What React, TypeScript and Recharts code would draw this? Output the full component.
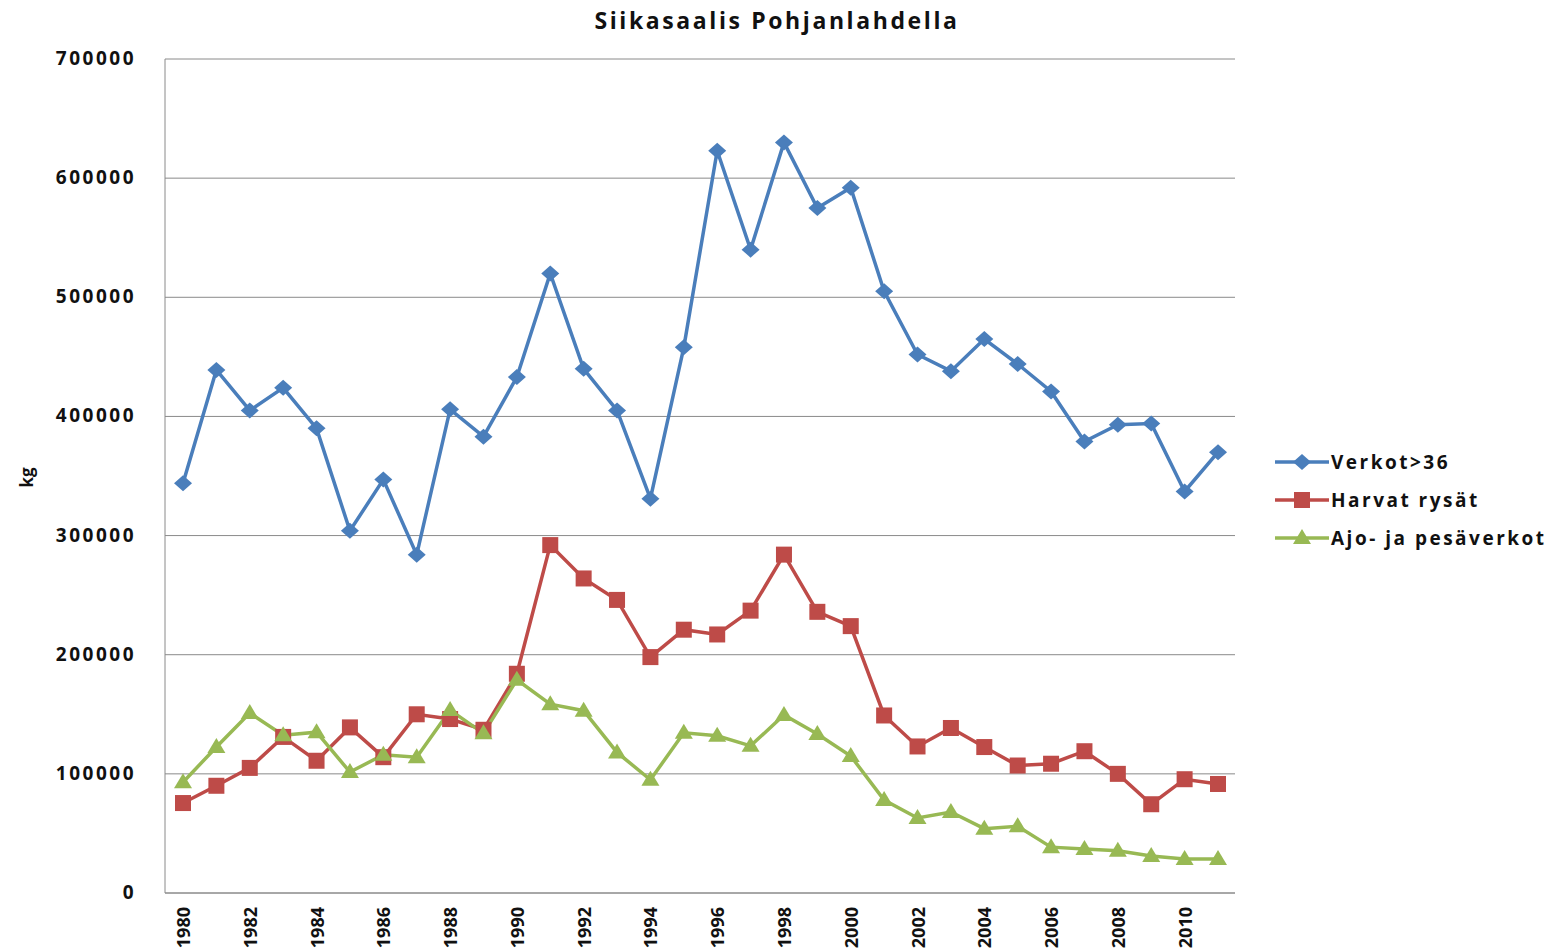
import React from "react";
import { LineChart, Line, XAxis, YAxis, CartesianGrid } from "recharts";

const years = [
    1980, 1981, 1982, 1983, 1984, 1985, 1986, 1987, 1988, 1989, 1990, 1991, 1992, 1993, 1994, 1995,
    1996, 1997, 1998, 1999, 2000, 2001, 2002, 2003, 2004, 2005, 2006, 2007, 2008, 2009, 2010, 2011,
];

const verkot = [
    344000, 439000, 405000, 424000, 390000, 304000, 347000, 284000, 406000, 383000, 433000, 520000,
    440000, 405000, 331000, 458000, 623000, 540000, 630000, 575000, 592000, 505000, 452000, 438000,
    465000, 444000, 421000, 379000, 393000, 394000, 337000, 370000,
];

const harvat = [
    75500, 90000, 105000, 131000, 111000, 139000, 114000, 150000, 146000, 137000, 184000, 292000,
    264000, 246000, 198000, 221000, 217000, 237000, 284000, 236000, 224000, 149000, 123000, 138500,
    122500, 107000, 108500, 119000, 100000, 74500, 95500, 91500,
];

const ajo = [
    93000, 122500, 151000, 132500, 135000, 101500, 116000, 114000, 153500, 134000, 179000, 158500,
    153000, 118000, 95000, 134500, 132000, 123500, 149500, 133500, 115000, 78000, 63000, 68000,
    54000, 56000, 38500, 37000, 35500, 31000, 28500, 28500,
];

const yTicks = [0, 100000, 200000, 300000, 400000, 500000, 600000, 700000];

const seriesNames = ["Verkot>36", "Harvat rysät", "Ajo- ja pesäverkot"];

const BLUE = "#4A7EBB";
const RED = "#BE4B48";
const GREEN = "#98B954";
const FONT = "'Open Sans', sans-serif";

const data = years.map((y, i) => ({
    year: String(y),
    verkot: verkot[i],
    harvat: harvat[i],
    ajo: ajo[i],
}));

function Marker({ kind, cx, cy, color }: { kind: string; cx: number; cy: number; color: string }) {
    if (kind === "diamond") {
        return <path d={`M${cx},${cy - 8} L${cx + 9},${cy} L${cx},${cy + 8} L${cx - 9},${cy} Z`} fill={color} />;
    }
    if (kind === "square") {
        return <rect x={cx - 8} y={cy - 8} width={16} height={16} fill={color} />;
    }
    return <path d={`M${cx},${cy - 9} L${cx + 9},${cy + 6} L${cx - 9},${cy + 6} Z`} fill={color} />;
}

function makeDot(kind: string, color: string) {
    return (props: any) => {
        const { cx, cy, index } = props;
        if (cx == null || cy == null) return <g key={`e-${index}`} />;
        return <Marker key={`${kind}-${index}`} kind={kind} cx={cx} cy={cy} color={color} />;
    };
}

function YTick(props: any) {
    const { y, payload } = props;
    return (
        <text x={136} y={y + 6} textAnchor="end" fontFamily={FONT} fontWeight={700} fontSize={19} letterSpacing={2.5} fill="#111">
            {payload.value}
        </text>
    );
}

// rotated year labels hang down from just under the axis
function XTick(props: any) {
    const { x, payload } = props;
    const ty = 907;
    return (
        <text
            x={x + 7}
            y={ty}
            transform={`rotate(-90, ${x + 7}, ${ty})`}
            textAnchor="end"
            fontFamily={FONT}
            fontWeight={700}
            fontSize={18}
            fill="#111"
        >
            {payload.value}
        </text>
    );
}

const legendItems = [
    { name: seriesNames[0], color: BLUE, kind: "diamond" },
    { name: seriesNames[1], color: RED, kind: "square" },
    { name: seriesNames[2], color: GREEN, kind: "triangle" },
];

export default function App() {
    return (
        <div style={{ position: "absolute", left: 0, top: 0, width: 1554, height: 952, background: "#fff" }}>
            <div
                style={{
                    position: "absolute",
                    left: 0,
                    width: 1554,
                    top: 4,
                    textAlign: "center",
                    fontFamily: FONT,
                    fontWeight: 700,
                    fontSize: 23,
                    letterSpacing: 2.6,
                    color: "#111",
                }}
            >
                Siikasaalis Pohjanlahdella
            </div>
            <div
                style={{
                    position: "absolute",
                    left: 16,
                    top: 466,
                    transform: "rotate(-90deg)",
                    fontFamily: FONT,
                    fontWeight: 700,
                    fontSize: 17,
                    color: "#111",
                }}
            >
                kg
            </div>
            <LineChart width={1554} height={952} data={data} margin={{ top: 59, right: 319, left: 0, bottom: 0 }}>
                <CartesianGrid vertical={false} stroke="#8a8a8a" strokeWidth={1} />
                <XAxis
                    dataKey="year"
                    interval={1}
                    tickLine={false}
                    axisLine={{ stroke: "#8a8a8a" }}
                    height={59}
                    padding={{ left: 18, right: 17 }}
                    tick={<XTick />}
                />
                <YAxis
                    domain={[0, 700000]}
                    ticks={yTicks}
                    width={165}
                    tickLine={false}
                    axisLine={{ stroke: "#8a8a8a" }}
                    tick={<YTick />}
                />
                <Line
                    dataKey="verkot"
                    name={seriesNames[0]}
                    stroke={BLUE}
                    strokeWidth={3.5}
                    dot={makeDot("diamond", BLUE)}
                    activeDot={false}
                    isAnimationActive={false}
                />
                <Line
                    dataKey="harvat"
                    name={seriesNames[1]}
                    stroke={RED}
                    strokeWidth={3.5}
                    dot={makeDot("square", RED)}
                    activeDot={false}
                    isAnimationActive={false}
                />
                <Line
                    dataKey="ajo"
                    name={seriesNames[2]}
                    stroke={GREEN}
                    strokeWidth={3.5}
                    dot={makeDot("triangle", GREEN)}
                    activeDot={false}
                    isAnimationActive={false}
                />
            </LineChart>
            <div style={{ position: "absolute", left: 1273, top: 443 }}>
                {legendItems.map((it) => (
                    <div key={it.name} style={{ display: "flex", alignItems: "center", height: 38 }}>
                        <svg width={58} height={24}>
                            <line x1={2} y1={12} x2={56} y2={12} stroke={it.color} strokeWidth={3.5} />
                            <Marker kind={it.kind} cx={29} cy={12} color={it.color} />
                        </svg>
                        <span
                            style={{
                                fontFamily: FONT,
                                fontWeight: 700,
                                fontSize: 19,
                                letterSpacing: 2.5,
                                color: "#111",
                            }}
                        >
                            {it.name}
                        </span>
                    </div>
                ))}
            </div>
        </div>
    );
}
